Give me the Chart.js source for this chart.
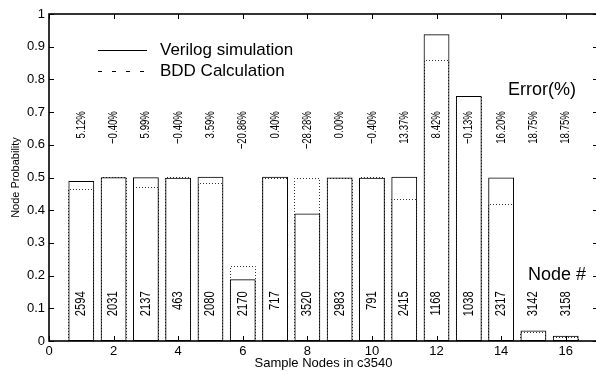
<!DOCTYPE html>
<html>
<head>
<meta charset="utf-8">
<script src="https://cdn.jsdelivr.net/npm/chart.js@4"></script>
<style>
html, body { margin: 0; padding: 0; background: #fff; overflow: hidden; }
#wrap { width: 600px; height: 371px; }
</style>
</head>
<body>
<div id="wrap"><canvas id="myChart" width="600" height="371"></canvas></div>
<script>
// data
var nodeIndex = [1, 2, 3, 4, 5, 6, 7, 8, 9, 10, 11, 12, 13, 14, 15, 16];
var verilogSim = [0.489, 0.501, 0.501, 0.499, 0.502, 0.189, 0.502, 0.390, 0.500, 0.499, 0.502, 0.938, 0.749, 0.500, 0.032, 0.016];
var bddCalc = [0.464, 0.503, 0.471, 0.501, 0.484, 0.228, 0.500, 0.500, 0.500, 0.501, 0.435, 0.859, 0.750, 0.419, 0.026, 0.013];
var errorPct = [5.12, -0.40, 5.99, -0.40, 3.59, -20.86, 0.40, -28.28, 0.00, -0.40, 13.37, 8.42, -0.13, 16.20, 18.75, 18.75];
var nodeIds = [2594, 2031, 2137, 463, 2080, 2170, 717, 3520, 2983, 791, 2415, 1168, 1038, 2317, 3142, 3158];
var xTicks = [0, 2, 4, 6, 8, 10, 12, 14, 16];
var yTicks = [0, 0.1, 0.2, 0.3, 0.4, 0.5, 0.6, 0.7, 0.8, 0.9, 1];

var FONT = "'Liberation Sans', Arial, Helvetica, sans-serif";

function points(vals) {
    return nodeIndex.map(function (x, i) { return { x: x, y: vals[i] }; });
}

function fmtErr(v) {
    var s = Math.abs(v).toFixed(2) + '%';
    return v < 0 ? '\u2212' + s : s;
}

// dotted BDD bars, frame with inward ticks, labels and legend
var decorations = {
    id: 'decorations',
    beforeDatasetsDraw: function (chart) {
        var ctx = chart.ctx;
        var meta = chart.getDatasetMeta(1);
        ctx.save();
        ctx.strokeStyle = '#333';
        ctx.lineWidth = 1;
        ctx.setLineDash([1, 2]);
        meta.data.forEach(function (bar) {
            var l = Math.round(bar.x - bar.width / 2) + 0.5;
            var r = Math.round(bar.x + bar.width / 2) - 0.5;
            var t = Math.round(bar.y) + 0.5;
            var b = Math.round(bar.base);
            ctx.beginPath();
            ctx.moveTo(l, b); ctx.lineTo(l, t); ctx.lineTo(r, t); ctx.lineTo(r, b);
            ctx.stroke();
        });
        ctx.restore();
    },
    afterDraw: function (chart) {
        var ctx = chart.ctx, a = chart.chartArea;
        var xs = chart.scales.x, ys = chart.scales.y;
        var L = Math.round(a.left), R = Math.round(a.right);
        var T = Math.round(a.top), B = Math.round(a.bottom);
        ctx.save();
        ctx.strokeStyle = '#000';
        ctx.lineWidth = 1.6;
        ctx.strokeRect(L, T, R - L, B - T);

        // inward ticks
        ctx.lineWidth = 1;
        ctx.beginPath();
        yTicks.forEach(function (v) {
            var y = Math.round(ys.getPixelForValue(v)) + 0.5;
            ctx.moveTo(L, y); ctx.lineTo(L + 5, y);
            ctx.moveTo(R, y); ctx.lineTo(R - 5, y);
        });
        xTicks.forEach(function (v) {
            var x = Math.round(xs.getPixelForValue(v)) + 0.5;
            ctx.moveTo(x, B); ctx.lineTo(x, B - 5);
            ctx.moveTo(x, T); ctx.lineTo(x, T + 5);
        });
        ctx.stroke();

        // rotated error and node labels
        ctx.fillStyle = '#000';
        ctx.textBaseline = 'middle';
        ctx.textAlign = 'right';
        nodeIndex.forEach(function (n, i) {
            var x = xs.getPixelForValue(n);
            ctx.save();
            ctx.translate(x, ys.getPixelForValue(0.703));
            ctx.rotate(-Math.PI / 2);
            ctx.scale(0.74, 1);
            ctx.font = '13px ' + FONT;
            ctx.fillText(fmtErr(errorPct[i]), 0, 0);
            ctx.restore();

            ctx.save();
            ctx.translate(x, ys.getPixelForValue(0.152));
            ctx.rotate(-Math.PI / 2);
            ctx.scale(0.8, 1);
            ctx.font = '14px ' + FONT;
            ctx.fillText(String(nodeIds[i]), 0, 0);
            ctx.restore();
        });

        // legend
        ctx.textAlign = 'left';
        ctx.font = '17px ' + FONT;
        ctx.beginPath();
        ctx.moveTo(98, 50.5); ctx.lineTo(147, 50.5);
        ctx.stroke();
        ctx.setLineDash([4, 10]);
        ctx.beginPath();
        ctx.moveTo(98, 71.5); ctx.lineTo(147, 71.5);
        ctx.stroke();
        ctx.setLineDash([]);
        ctx.fillText('Verilog simulation', 160, 50);
        ctx.fillText('BDD Calculation', 160, 71);

        ctx.font = '18px ' + FONT;
        ctx.fillText('Error(%)', 508, 90);
        ctx.fillText('Node #', 528, 275);
        ctx.restore();
    }
};

var ctx = document.getElementById('myChart').getContext('2d');
var chart = new Chart(ctx, {
    type: 'bar',
    data: {
        datasets: [{
            label: 'Verilog simulation',
            data: points(verilogSim),
            backgroundColor: 'rgba(0,0,0,0)',
            borderColor: '#000',
            borderWidth: 1,
            borderSkipped: false
        },
        {
            label: 'BDD Calculation',
            data: points(bddCalc),
            backgroundColor: 'rgba(0,0,0,0)',
            borderColor: 'rgba(0,0,0,0)',
            borderWidth: 0
        }]
    },
    options: {
        responsive: false,
        animation: false,
        devicePixelRatio: 1,
        grouped: false,
        categoryPercentage: 1,
        barPercentage: 0.8,
        layout: { padding: { top: 14, right: 2, left: 0, bottom: 0 } },
        plugins: { legend: { display: false }, tooltip: { enabled: false } },
        scales: {
            x: {
                type: 'linear',
                min: 0,
                max: 17,
                offset: false,
                grid: { display: false, drawTicks: false },
                border: { display: false },
                afterBuildTicks: function (s) { s.ticks = xTicks.map(function (v) { return { value: v }; }); },
                afterFit: function (s) { s.height = 30; },
                ticks: { color: '#000', padding: 3, maxRotation: 0, font: { family: FONT, size: 13 } },
                title: { display: true, text: 'Sample Nodes in c3540', color: '#000', padding: 0, font: { family: FONT, size: 13 } }
            },
            y: {
                min: 0,
                max: 1,
                grid: { display: false, drawTicks: false },
                border: { display: false },
                afterBuildTicks: function (s) { s.ticks = yTicks.map(function (v) { return { value: v }; }); },
                afterFit: function (s) { s.width = 49; },
                ticks: {
                    color: '#000', padding: 4, font: { family: FONT, size: 13 },
                    callback: function (v) { return String(Math.round(v * 10) / 10); }
                },
                title: { display: true, text: 'Node Probability', color: '#000', padding: { top: 9 }, font: { family: FONT, size: 11 } }
            }
        }
    },
    plugins: [decorations]
});
</script>
</body>
</html>
